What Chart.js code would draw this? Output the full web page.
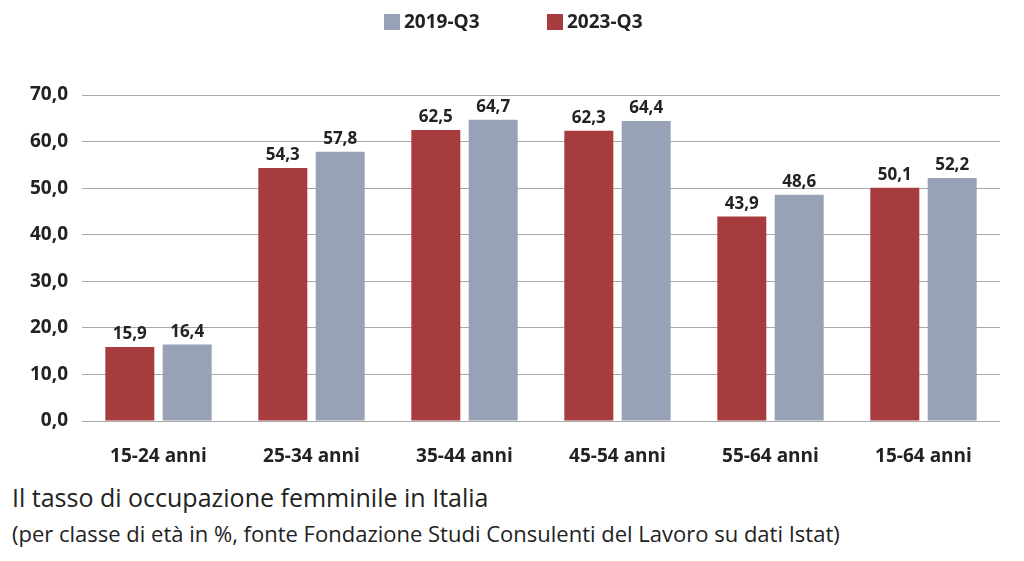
<!DOCTYPE html>
<html>
<head>
<meta charset="utf-8">
<script src="https://cdn.jsdelivr.net/npm/chart.js@4"></script>
<style>
  html, body { margin: 0; padding: 0; background: #fff; }
  #wrap { position: relative; width: 1024px; height: 561px; overflow: hidden; font-family: "Open Sans", sans-serif; }
  #chart-box { position: absolute; left: 0; top: 0; width: 1024px; height: 480px; }
  .title { position: absolute; left: 12px; top: 480px; font-size: 25px; line-height: 34px; color: #222; white-space: nowrap; }
  .subtitle { position: absolute; left: 12px; top: 518px; font-size: 22px; line-height: 30px; color: #222; white-space: nowrap; }
</style>
</head>
<body>
<div id="wrap">
  <div id="chart-box"><canvas id="chart"></canvas></div>
  <div class="title">Il tasso di occupazione femminile in Italia</div>
  <div class="subtitle">(per classe di età in %, fonte Fondazione Studi Consulenti del Lavoro su dati Istat)</div>
</div>
<script>
// chart data
const categories = ['15-24 anni', '25-34 anni', '35-44 anni', '45-54 anni', '55-64 anni', '15-64 anni'];
const seriesRed = [15.9, 54.3, 62.5, 62.3, 43.9, 50.1];   // 2023-Q3
const seriesGray = [16.4, 57.8, 64.7, 64.4, 48.6, 52.2];  // 2019-Q3
const yTicks = [0, 10, 20, 30, 40, 50, 60, 70];

const RED = '#A63C3D';
const GRAY = '#98A2B6';
const fmt = v => v.toFixed(1).replace('.', ',');

// values above the bars
const barValues = {
  id: 'barValues',
  afterDatasetsDraw(chart) {
    const ctx = chart.ctx;
    ctx.save();
    ctx.font = 'bold 17px "Open Sans"';
    ctx.fillStyle = '#222';
    ctx.textAlign = 'center';
    ctx.textBaseline = 'bottom';
    chart.data.datasets.forEach((ds, i) => {
      chart.getDatasetMeta(i).data.forEach((bar, j) => {
        ctx.fillText(fmt(ds.data[j]), bar.x, bar.y - 4);
      });
    });
    ctx.restore();
  }
};

// legend on top, gray first
const topLegend = {
  id: 'topLegend',
  afterDraw(chart) {
    const ctx = chart.ctx;
    const items = [chart.data.datasets[1], chart.data.datasets[0]];
    const xs = [384, 547];
    ctx.save();
    ctx.font = 'bold 19px "Open Sans"';
    ctx.textBaseline = 'middle';
    items.forEach((ds, i) => {
      ctx.fillStyle = ds.backgroundColor;
      ctx.fillRect(xs[i], 14, 16, 16);
      ctx.fillStyle = '#222';
      ctx.fillText(ds.label, xs[i] + 20, 23);
    });
    ctx.restore();
  }
};

new Chart(document.getElementById('chart'), {
  type: 'bar',
  data: {
    labels: categories,
    datasets: [
      { label: '2023-Q3', data: seriesRed, backgroundColor: RED },
      { label: '2019-Q3', data: seriesGray, backgroundColor: GRAY }
    ]
  },
  options: {
    responsive: true,
    maintainAspectRatio: false,
    animation: false,
    categoryPercentage: 0.75,
    barPercentage: 0.854,
    layout: { padding: { top: 95, right: 24, left: 0, bottom: 0 } },
    plugins: {
      legend: { display: false },
      tooltip: { enabled: false }
    },
    scales: {
      y: {
        min: 0,
        max: 70,
        afterBuildTicks: s => { s.ticks = yTicks.map(v => ({ value: v })); },
        afterFit: s => { s.width = 82; },
        grid: { color: '#A8A8A8', lineWidth: 1, drawTicks: false },
        border: { display: false },
        ticks: {
          padding: 14,
          color: '#222',
          font: { family: 'Open Sans', size: 19, weight: 'bold' },
          callback: v => fmt(v)
        }
      },
      x: {
        afterFit: s => { s.height = 59; },
        grid: { display: false, drawTicks: false },
        border: { display: false },
        ticks: {
          padding: 24,
          color: '#222',
          font: { family: 'Open Sans', size: 19, weight: 'bold' }
        }
      }
    }
  },
  plugins: [barValues, topLegend]
});
</script>
</body>
</html>
